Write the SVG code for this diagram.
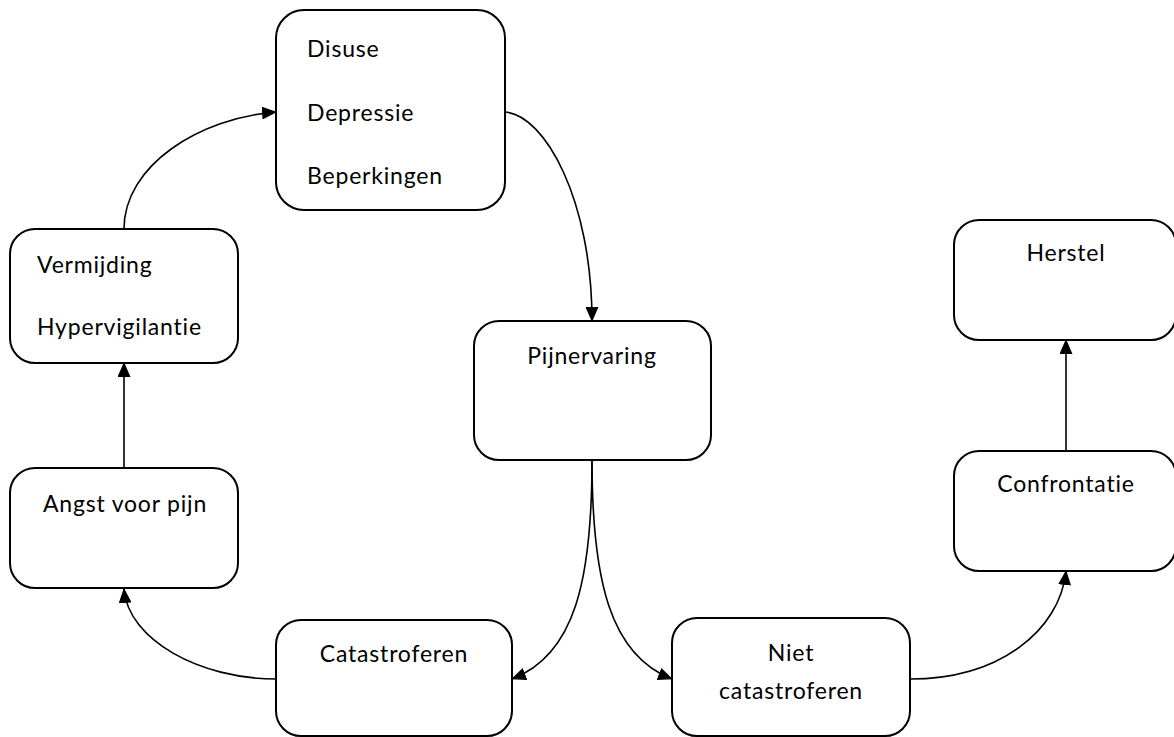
<svg xmlns="http://www.w3.org/2000/svg" width="1174" height="737" viewBox="0 0 1174 737">
<style>
.box{fill:#fff;stroke:#000;stroke-width:2}
.t{font-family:Lato,"Open Sans","Liberation Sans",sans-serif;font-size:23px;letter-spacing:0.8px;fill:#000}
.c{text-anchor:middle}
.e{fill:none;stroke:#000;stroke-width:1.6}
</style>
<defs>
<marker id="ah" markerUnits="userSpaceOnUse" markerWidth="15" markerHeight="13" refX="14" refY="6.5" orient="auto">
<path d="M0,0 L15,6.5 L0,13 Z" fill="#000"/>
</marker>
</defs>
<rect width="1174" height="737" fill="#fff"/>
<g id="connectors">
<path class="e" d="M124,229 C124,165 200,118 276,112" marker-end="url(#ah)"/>
<path class="e" d="M505,112 C545,115 592,200 592,321" marker-end="url(#ah)"/>
<path class="e" d="M124,468 L124,363" marker-end="url(#ah)"/>
<path class="e" d="M276,679 C200,679 128,640 124,589" marker-end="url(#ah)"/>
<path class="e" d="M592,460 C592,580 575,655 512,679" marker-end="url(#ah)"/>
<path class="e" d="M592,460 C592,580 610,655 672,679" marker-end="url(#ah)"/>
<path class="e" d="M910,679 C1000,679 1060,630 1066,571" marker-end="url(#ah)"/>
<path class="e" d="M1066,451 L1066,340" marker-end="url(#ah)"/>
</g>
<g id="n-disuse">
<rect class="box" x="276" y="10" width="229" height="200" rx="28"/>
<text class="t" x="307" y="57">Disuse</text>
<text class="t" x="307" y="121">Depressie</text>
<text class="t" x="307" y="184">Beperkingen</text>
</g>
<g id="n-vermijding">
<rect class="box" x="10" y="229" width="228" height="134" rx="25"/>
<text class="t" x="37" y="273">Vermijding</text>
<text class="t" x="37" y="335">Hypervigilantie</text>
</g>
<g id="n-angst">
<rect class="box" x="10" y="468" width="228" height="120" rx="25"/>
<text class="t c" x="125" y="512">Angst voor pijn</text>
</g>
<g id="n-catastroferen">
<rect class="box" x="276" y="620" width="236" height="116" rx="25"/>
<text class="t c" x="394" y="662">Catastroferen</text>
</g>
<g id="n-pijnervaring">
<rect class="box" x="474" y="321" width="237" height="139" rx="25"/>
<text class="t c" x="592" y="364">Pijnervaring</text>
</g>
<g id="n-niet">
<rect class="box" x="672" y="618" width="238" height="118" rx="25"/>
<text class="t c" x="791" y="661">Niet</text>
<text class="t c" x="791" y="699">catastroferen</text>
</g>
<g id="n-herstel">
<rect class="box" x="954" y="220" width="222" height="120" rx="25"/>
<text class="t c" x="1066" y="261">Herstel</text>
</g>
<g id="n-confrontatie">
<rect class="box" x="954" y="451" width="222" height="120" rx="25"/>
<text class="t c" x="1066" y="492">Confrontatie</text>
</g>
</svg>
